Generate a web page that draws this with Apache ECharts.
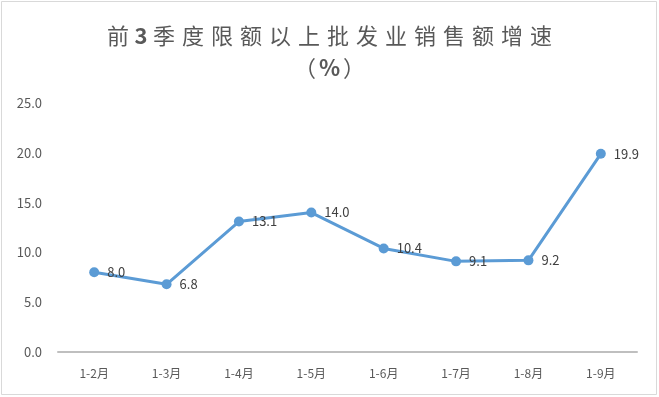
<!DOCTYPE html>
<html><head><meta charset="utf-8">
<script src="https://cdn.jsdelivr.net/npm/echarts@6/dist/echarts.min.js"></script>
<style>html,body{margin:0;padding:0;background:#fff}#c{width:659px;height:397px}</style>
</head><body><div id="c"></div>
<script>
const categories = ['1-2月','1-3月','1-4月','1-5月','1-6月','1-7月','1-8月','1-9月'];
const values = [8.0, 6.8, 13.1, 14.0, 10.4, 9.1, 9.2, 19.9];
const titleText = '前3季度限额以上批发业销售额增速';
const subText = '（%）';
const yMin = 0, yMax = 25, yStep = 5;

// spaced title via rich text fragments (bold for digits / percent)
function spaced(s){
  return Array.from(s).map(ch => (/[0-9%]/.test(ch) ? '{b|' : '{t|') + ch + '}').join('');
}
const FONT = '"Noto Sans CJK SC", "Noto Sans", sans-serif';

const chart = echarts.init(document.getElementById('c'), null, {renderer:'canvas'});
chart.setOption({
  animation:false,
  backgroundColor:'#fff',
  textStyle:{fontFamily:FONT},
  graphic:[{type:'rect',shape:{x:1.5,y:1.5,width:655,height:393},style:{fill:'none',stroke:'#d9d9d9',lineWidth:1},silent:true}],
  title:[
    {text:spaced(titleText),left:'center',top:20,textStyle:{fontSize:22,fontWeight:'normal',color:'#595959',fontFamily:FONT,
      rich:{t:{fontSize:22,fontWeight:'normal',color:'#595959',fontFamily:FONT,padding:[0,3.5,0,3.5]},
            b:{fontSize:22,fontWeight:'bold',color:'#595959',fontFamily:FONT,padding:[0,2,0,2]}}}},
    {text:spaced(subText),left:'center',top:52,textStyle:{fontSize:22,fontWeight:'normal',color:'#595959',fontFamily:FONT,
      rich:{t:{fontSize:22,fontWeight:'normal',color:'#595959',fontFamily:FONT,padding:[0,3,0,3]},
            b:{fontSize:22,fontWeight:'bold',color:'#595959',fontFamily:FONT,padding:[0,0,0,0]}}}}
  ],
  grid:{left:58,right:22,top:103,bottom:45,containLabel:false},
  xAxis:{type:'category',data:categories,boundaryGap:true,
    axisLine:{lineStyle:{color:'#bfbfbf',width:2}},axisTick:{show:false},
    axisLabel:{color:'#595959',fontSize:12,margin:15}},
  yAxis:{type:'value',min:yMin,max:yMax,interval:yStep,
    axisLine:{show:false},axisTick:{show:false},splitLine:{show:false},
    axisLabel:{color:'#595959',fontSize:13,margin:16,formatter:v=>v.toFixed(1)}},
  series:[{type:'line',data:values,symbol:'circle',symbolSize:10,
    lineStyle:{color:'#5b9bd5',width:3},itemStyle:{color:'#5b9bd5'},
    label:{show:true,position:'right',distance:8,color:'#404040',fontSize:13,formatter:p=>p.value.toFixed(1)}}]
});
</script></body></html>
